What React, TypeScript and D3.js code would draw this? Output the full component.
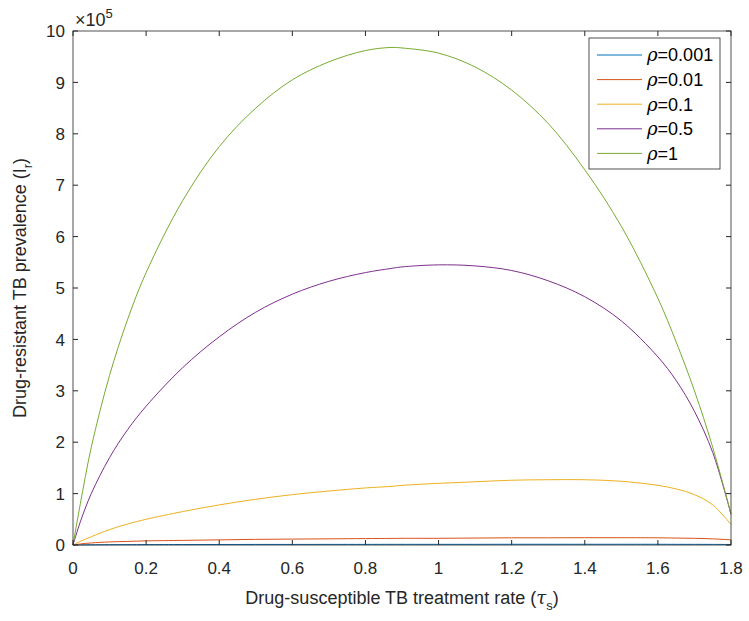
import React, { useEffect, useRef } from 'react';
import * as d3 from 'd3';

// treatment rate tau_s (x) and drug-resistant prevalence in units of 1e5 (y)
const tau = [0, 0.02, 0.05, 0.1, 0.15, 0.2, 0.3, 0.4, 0.5, 0.6, 0.7, 0.8, 0.87, 0.9, 1.0, 1.1, 1.2, 1.3, 1.4, 1.5, 1.6, 1.65, 1.7, 1.75, 1.8];

const rho0001 = [0, 0.002, 0.004, 0.006, 0.007, 0.008, 0.009, 0.01, 0.011, 0.011, 0.012, 0.012, 0.013, 0.013, 0.013, 0.013, 0.014, 0.014, 0.014, 0.014, 0.014, 0.013, 0.013, 0.012, 0.01];
const rho001 = [0, 0.02, 0.04, 0.06, 0.07, 0.08, 0.09, 0.1, 0.11, 0.115, 0.12, 0.125, 0.128, 0.13, 0.13, 0.135, 0.14, 0.14, 0.142, 0.142, 0.14, 0.135, 0.13, 0.12, 0.1];
const rho01 = [0, 0.07, 0.16, 0.3, 0.41, 0.5, 0.65, 0.78, 0.89, 0.98, 1.05, 1.11, 1.14, 1.16, 1.2, 1.23, 1.26, 1.27, 1.27, 1.24, 1.16, 1.09, 0.98, 0.78, 0.4];
const rho05 = [0, 0.45, 1.0, 1.7, 2.25, 2.7, 3.45, 4.05, 4.53, 4.88, 5.13, 5.3, 5.38, 5.41, 5.45, 5.43, 5.34, 5.14, 4.83, 4.36, 3.66, 3.2, 2.6, 1.8, 0.6];
const rho1 = [0, 0.8, 1.9, 3.3, 4.4, 5.3, 6.7, 7.75, 8.5, 9.05, 9.4, 9.62, 9.68, 9.67, 9.57, 9.3, 8.85, 8.2, 7.3, 6.2, 4.8, 3.95, 3.0, 1.9, 0.6];

const seriesNames = ['0.001', '0.01', '0.1', '0.5', '1'];
const seriesValues = [rho0001, rho001, rho01, rho05, rho1];
const seriesColors = ['#0072BD', '#D95319', '#EDB120', '#7E2F8E', '#77AC30'];

const xTicks = [0, 0.2, 0.4, 0.6, 0.8, 1, 1.2, 1.4, 1.6, 1.8];
const yTicks = [0, 1, 2, 3, 4, 5, 6, 7, 8, 9, 10];

const W = 749, H = 621;
const FONT = '"Liberation Sans", Arial, Helvetica, sans-serif';
const AX = '#262626';

export default function App() {
  const ref = useRef<SVGSVGElement>(null);

  useEffect(() => {
    const svg = d3.select(ref.current);
    svg.selectAll('*').remove();

    const margin = { top: 31, left: 73, right: 18, bottom: 76 };
    const width = W - margin.left - margin.right,
      height = H - margin.top - margin.bottom;

    const x = d3.scaleLinear().domain([0, 1.8]).range([0, width]);
    const y = d3.scaleLinear().domain([0, 10]).range([height, 0]);

    svg.append('rect').attr('width', W).attr('height', H).attr('fill', '#fff');

    const g = svg.append('g')
      .attr('transform', 'translate(' + margin.left + ',' + margin.top + ')')
      .style('font-family', FONT);

    // lines
    const line = d3.line<number>()
      .x((d, i) => x(tau[i]))
      .y(d => y(d))
      .curve(d3.curveCatmullRom.alpha(0.5));

    seriesValues.forEach((vals, i) => {
      g.append('path')
        .attr('d', line(vals))
        .attr('fill', 'none')
        .attr('stroke', seriesColors[i])
        .attr('stroke-width', 1);
    });

    // box
    g.append('rect')
      .attr('width', width).attr('height', height)
      .attr('fill', 'none').attr('stroke', AX).attr('stroke-width', 0.8);

    // ticks (inside, mirrored)
    const tl = 5;
    xTicks.forEach(t => {
      g.append('line').attr('x1', x(t)).attr('x2', x(t)).attr('y1', height).attr('y2', height - tl).attr('stroke', AX);
      g.append('line').attr('x1', x(t)).attr('x2', x(t)).attr('y1', 0).attr('y2', tl).attr('stroke', AX);
      g.append('text')
        .attr('x', x(t)).attr('y', height + 29)
        .attr('text-anchor', 'middle')
        .attr('font-size', 17).attr('fill', AX)
        .text(d3.format('~g')(t));
    });
    yTicks.forEach(t => {
      g.append('line').attr('x1', 0).attr('x2', tl).attr('y1', y(t)).attr('y2', y(t)).attr('stroke', AX);
      g.append('line').attr('x1', width).attr('x2', width - tl).attr('y1', y(t)).attr('y2', y(t)).attr('stroke', AX);
      g.append('text')
        .attr('x', -8).attr('y', y(t)).attr('dy', '0.36em')
        .attr('text-anchor', 'end')
        .attr('font-size', 17).attr('fill', AX)
        .text(t);
    });

    // exponent
    const ex = g.append('text').attr('x', 2).attr('y', -5).attr('font-size', 18).attr('fill', AX);
    ex.append('tspan').text('\u00d710');
    ex.append('tspan').attr('dy', -8).attr('font-size', 13).text('5');

    // axis labels
    const xl = g.append('text')
      .attr('x', width / 2).attr('y', height + 59)
      .attr('text-anchor', 'middle').attr('font-size', 18).attr('fill', AX);
    xl.append('tspan').text('Drug-susceptible TB treatment rate (');
    xl.append('tspan').attr('font-style', 'italic').attr('font-family', 'DejaVu Serif, serif').text('\u03c4');
    xl.append('tspan').attr('dy', 6).attr('font-size', 13).text('s');
    xl.append('tspan').attr('dy', -6).text(')');

    const yl = g.append('text')
      .attr('transform', 'translate(' + (-47) + ',' + height / 2 + ') rotate(-90)')
      .attr('text-anchor', 'middle').attr('font-size', 18).attr('fill', AX);
    yl.append('tspan').text('Drug-resistant TB prevalence (I');
    yl.append('tspan').attr('dy', 6).attr('font-size', 13).text('r');
    yl.append('tspan').attr('dy', -6).text(')');

    // legend
    const lg = svg.append('g').style('font-family', FONT);
    lg.append('rect')
      .attr('x', 589).attr('y', 38).attr('width', 131).attr('height', 131)
      .attr('fill', '#fff').attr('stroke', AX).attr('stroke-width', 0.8);
    seriesNames.forEach((n, i) => {
      const ly = 55 + i * 24.6;
      lg.append('line')
        .attr('x1', 597).attr('x2', 642).attr('y1', ly).attr('y2', ly)
        .attr('stroke', seriesColors[i]).attr('stroke-width', 1);
      const t = lg.append('text')
        .attr('x', 647).attr('y', ly).attr('dy', '0.36em')
        .attr('font-size', 18).attr('fill', '#000');
      t.append('tspan').attr('font-style', 'italic').attr('font-family', 'DejaVu Serif, serif').text('\u03c1');
      t.append('tspan').text('=' + n);
    });
  }, []);

  return (
    <svg ref={ref} width={W} height={H} style={{ display: 'block', position: 'absolute', left: 0, top: 0 }}></svg>
  );
}
